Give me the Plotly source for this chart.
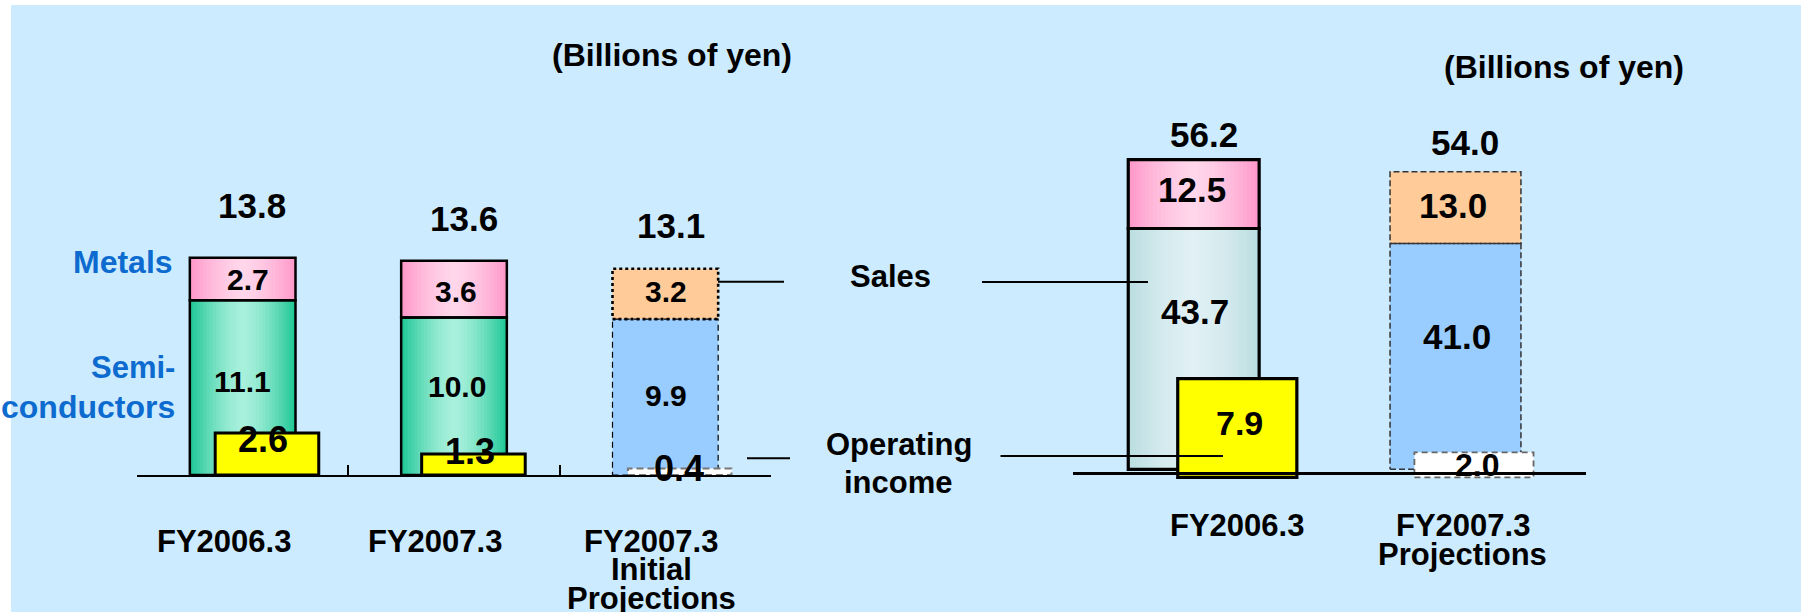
import plotly.graph_objects as go

# ---------------- data ----------------
left_categories = ["FY2006.3", "FY2007.3", "FY2007.3<br>Initial<br>Projections"]
left_semiconductors = [11.1, 10.0, 9.9]
left_metals = [2.7, 3.6, 3.2]
left_totals = [13.8, 13.6, 13.1]
left_operating_income = [2.6, 1.3, 0.4]
left_is_projection = [False, False, True]

right_categories = ["FY2006.3", "FY2007.3<br>Projections"]
right_lower = [43.7, 41.0]
right_upper = [12.5, 13.0]
right_totals = [56.2, 54.0]
right_operating_income = [7.9, 2.0]
right_is_projection = [False, True]

unit_label = "(Billions of yen)"
segment_labels = ["Metals", "Semi-", "conductors"]
callout_labels = ["Sales", "Operating", "income"]

# ---------------- styling / geometry ----------------
WF, HF = 1801, 612
FONT = "Liberation Sans, Arial, Helvetica, sans-serif"
BG = "#CCEBFF"
BLUE_TXT = "#0D6BD0"

def fx(p):
    return p / WF

def fy(p):
    return 1 - p / HF

def mix(c1, c2, t):
    return "rgb(%d,%d,%d)" % tuple(round(a + (b - a) * t) for a, b in zip(c1, c2))

TOP = 5
# left chart geometry
L_X0, L_X1 = 137, 771
L_BASE = 475
L_SCALE, L_OP_SCALE = 15.75, 16.2
L_BAR_W, L_OP_W = 0.5, 0.49
L_OP_OFF = [-0.13, -0.153, -0.177]

# right chart geometry
R_X0, R_X1 = 1073, 1586
R_UNIT, R_C0 = 261.8, 1193.7
R_DOM_BOTTOM = 480
R_ZERO, R_SCALE = 469.3, 5.51
R_OP_ZERO, R_OP_SCALE = 477.3, 12.5
R_AXIS = 472.7
R_BAR_W, R_OP_W = 0.5, 0.455
R_OP_OFF = [-0.061, -0.157]

GREEN_EDGE, GREEN_MID = (28, 198, 148), (168, 240, 220)
PINK_EDGE, PINK_MID = (255, 150, 200), (255, 214, 234)
CYAN_EDGE, CYAN_MID = (186, 221, 224), (224, 240, 244)
PROJ_LOWER, PROJ_UPPER = "#99CCFF", "#FFCC99"
YELLOW = "#FFFF00"

fig = go.Figure()


def gradient_bars(xs, bases, vals, width, edge, mid, xa, ya, n=16, power=1.5):
    for k in range(n):
        f = 1 - k / n
        t = max(f - 0.5 / n, 0)
        fig.add_bar(x=xs, y=vals, base=bases, width=[width * f] * len(xs),
                    marker=dict(color=mix(mid, edge, t ** power), line=dict(width=0)),
                    xaxis=xa, yaxis=ya, hoverinfo="skip", showlegend=False)


def outline_bars(xs, bases, vals, width, lw, xa, ya):
    fig.add_bar(x=xs, y=vals, base=bases, width=[width] * len(xs),
                marker=dict(color="rgba(0,0,0,0)", line=dict(width=lw, color="black")),
                xaxis=xa, yaxis=ya, hoverinfo="skip", showlegend=False)


def dashed_rects(rects, color, lw, dash, xa, ya):
    xs, ys = [], []
    for l, r, b, t in rects:
        xs += [l, r, r, l, l, None]
        ys += [b, b, t, t, b, None]
    fig.add_scatter(x=xs, y=ys, mode="lines", line=dict(color=color, width=lw, dash=dash),
                    xaxis=xa, yaxis=ya, hoverinfo="skip", showlegend=False)


def txt(text, x, y, xref, yref, size=31, color="black", xanchor="center",
        yanchor="middle", xshift=0, yshift=0):
    fig.add_annotation(text=text, x=x, y=y, xref=xref, yref=yref, showarrow=False,
                       font=dict(family=FONT, size=size, color=color, weight="bold"),
                       xanchor=xanchor, yanchor=yanchor, xshift=xshift, yshift=yshift)


# ================= LEFT CHART =================
lx = list(range(len(left_categories)))
solid = [i for i in lx if not left_is_projection[i]]
proj = [i for i in lx if left_is_projection[i]]

gradient_bars(solid, [0] * len(solid), [left_semiconductors[i] for i in solid],
              L_BAR_W, GREEN_EDGE, GREEN_MID, "x", "y")
gradient_bars(solid, [left_semiconductors[i] for i in solid], [left_metals[i] for i in solid],
              L_BAR_W, PINK_EDGE, PINK_MID, "x", "y")
outline_bars(solid, [0] * len(solid), [left_semiconductors[i] for i in solid], L_BAR_W, 2.5, "x", "y")
outline_bars(solid, [left_semiconductors[i] for i in solid], [left_metals[i] for i in solid],
             L_BAR_W, 2.5, "x", "y")

fig.add_bar(x=proj, y=[left_semiconductors[i] for i in proj], base=[0] * len(proj),
            width=[L_BAR_W] * len(proj), marker=dict(color=PROJ_LOWER, line=dict(width=0)),
            xaxis="x", yaxis="y", hoverinfo="skip", showlegend=False)
fig.add_bar(x=proj, y=[left_metals[i] for i in proj], base=[left_semiconductors[i] for i in proj],
            width=[L_BAR_W] * len(proj), marker=dict(color=PROJ_UPPER, line=dict(width=0)),
            xaxis="x", yaxis="y", hoverinfo="skip", showlegend=False)
dashed_rects([(i - L_BAR_W / 2, i + L_BAR_W / 2, 0, left_semiconductors[i]) for i in proj],
             "black", 1.2, "6px,4px", "x", "y")
dashed_rects([(i - L_BAR_W / 2, i + L_BAR_W / 2, left_semiconductors[i],
               left_semiconductors[i] + left_metals[i]) for i in proj],
             "black", 2.6, "3px,3px", "x", "y")

# operating income (left)
fig.add_bar(x=solid, y=[left_operating_income[i] for i in solid], width=[L_OP_W] * len(solid),
            offset=[L_OP_OFF[i] for i in solid],
            marker=dict(color=YELLOW, line=dict(width=3, color="black")),
            xaxis="x", yaxis="y4", hoverinfo="skip", showlegend=False)
fig.add_bar(x=proj, y=[left_operating_income[i] for i in proj], width=[L_OP_W] * len(proj),
            offset=[L_OP_OFF[i] for i in proj],
            marker=dict(color="white", line=dict(width=0)),
            xaxis="x", yaxis="y4", hoverinfo="skip", showlegend=False)
dashed_rects([(i + L_OP_OFF[i], i + L_OP_OFF[i] + L_OP_W, 0, left_operating_income[i]) for i in proj],
             "#777777", 2, "7px,4px", "x", "y4")

# ================= RIGHT CHART =================
rx = list(range(len(right_categories)))
rsolid = [i for i in rx if not right_is_projection[i]]
rproj = [i for i in rx if right_is_projection[i]]

gradient_bars(rsolid, [0] * len(rsolid), [right_lower[i] for i in rsolid],
              R_BAR_W, CYAN_EDGE, CYAN_MID, "x2", "y2")
gradient_bars(rsolid, [right_lower[i] for i in rsolid], [right_upper[i] for i in rsolid],
              R_BAR_W, PINK_EDGE, PINK_MID, "x2", "y2")
outline_bars(rsolid, [0] * len(rsolid), [right_lower[i] for i in rsolid], R_BAR_W, 3.2, "x2", "y2")
outline_bars(rsolid, [right_lower[i] for i in rsolid], [right_upper[i] for i in rsolid],
             R_BAR_W, 3.2, "x2", "y2")

fig.add_bar(x=rproj, y=[right_lower[i] for i in rproj], base=[0] * len(rproj),
            width=[R_BAR_W] * len(rproj), marker=dict(color=PROJ_LOWER, line=dict(width=0)),
            xaxis="x2", yaxis="y2", hoverinfo="skip", showlegend=False)
fig.add_bar(x=rproj, y=[right_upper[i] for i in rproj], base=[right_lower[i] for i in rproj],
            width=[R_BAR_W] * len(rproj), marker=dict(color=PROJ_UPPER, line=dict(width=0)),
            xaxis="x2", yaxis="y2", hoverinfo="skip", showlegend=False)
dashed_rects([(i - R_BAR_W / 2, i + R_BAR_W / 2, 0, right_lower[i]) for i in rproj] +
             [(i - R_BAR_W / 2, i + R_BAR_W / 2, right_lower[i], right_lower[i] + right_upper[i])
              for i in rproj],
             "#333333", 1.5, "6px,3px", "x2", "y2")

fig.add_bar(x=rsolid, y=[right_operating_income[i] for i in rsolid], width=[R_OP_W] * len(rsolid),
            offset=[R_OP_OFF[i] for i in rsolid],
            marker=dict(color=YELLOW, line=dict(width=3.2, color="black")),
            xaxis="x2", yaxis="y3", hoverinfo="skip", showlegend=False)
fig.add_bar(x=rproj, y=[right_operating_income[i] for i in rproj], width=[R_OP_W] * len(rproj),
            offset=[R_OP_OFF[i] for i in rproj],
            marker=dict(color="white", line=dict(width=0)),
            xaxis="x2", yaxis="y3", hoverinfo="skip", showlegend=False)
dashed_rects([(i + R_OP_OFF[i], i + R_OP_OFF[i] + R_OP_W, 0, right_operating_income[i]) for i in rproj],
             "#666666", 1.8, "6px,4px", "x2", "y3")

# ================= TEXT =================
L_TOT_DX, L_TOT_DY = [9, 10, 6], [52, 42, 43]
L_SEMI_DX, L_SEMI_DY = [0, 3, 1], [6, 10, 2]
L_MET_DX, L_MET_DY = [5, 2, 1], [-1, -2, 2]
L_OP_DX, L_OP_DY = [-4, -3, -1], [-7, 2, 0]
for i in lx:
    txt(f"{left_totals[i]:.1f}", i, left_totals[i], "x", "y", size=35,
        xshift=L_TOT_DX[i], yshift=L_TOT_DY[i])
    txt(f"{left_semiconductors[i]:.1f}", i, left_semiconductors[i] / 2, "x", "y", size=30,
        xshift=L_SEMI_DX[i], yshift=L_SEMI_DY[i])
    txt(f"{left_metals[i]:.1f}", i, left_semiconductors[i] + left_metals[i] / 2, "x", "y", size=30,
        xshift=L_MET_DX[i], yshift=L_MET_DY[i])
    txt(f"{left_operating_income[i]:.1f}", i + L_OP_OFF[i] + L_OP_W / 2, left_operating_income[i],
        "x", "y4", size=36, xshift=L_OP_DX[i], yshift=L_OP_DY[i])

R_TOT_DX, R_TOT_DY = [10, 9.5], [25, 29]
R_LOW_DX, R_LOW_DY = [1, 1.5], [37, 20]
R_UP_DX, R_UP_DY = [-2, -2.5], [5, 2]
R_OP_DX, R_OP_DY = [2.5, 3.5], [5, 0]
R_OP_SIZE = [34, 32]
for i in rx:
    txt(f"{right_totals[i]:.1f}", i, right_totals[i], "x2", "y2", size=35,
        xshift=R_TOT_DX[i], yshift=R_TOT_DY[i])
    txt(f"{right_lower[i]:.1f}", i, right_lower[i] / 2, "x2", "y2", size=35,
        xshift=R_LOW_DX[i], yshift=R_LOW_DY[i])
    txt(f"{right_upper[i]:.1f}", i, right_lower[i] + right_upper[i] / 2, "x2", "y2", size=35,
        xshift=R_UP_DX[i], yshift=R_UP_DY[i])
    txt(f"{right_operating_income[i]:.1f}", i + R_OP_OFF[i] + R_OP_W / 2,
        right_operating_income[i] / 2, "x2", "y3", size=R_OP_SIZE[i],
        xshift=R_OP_DX[i], yshift=R_OP_DY[i])

# category labels
L_CAT_DX = [-19, -19, -14]
for i, cat in enumerate(left_categories):
    for k, line in enumerate(cat.split("<br>")):
        txt(line, i, fy(541 + 28.7 * k), "x", "paper", size=31, xshift=L_CAT_DX[i])
R_CAT_DX = [43, 7]
for i, cat in enumerate(right_categories):
    for k, line in enumerate(cat.split("<br>")):
        txt(line, i, fy(525.4 + 29.3 * k), "x2", "paper", size=31, xshift=R_CAT_DX[i])

# unit labels
txt(unit_label, fx(672), fy(55), "paper", "paper", size=32)
txt(unit_label, fx(1564), fy(67), "paper", "paper", size=32)

# segment names (blue)
txt(segment_labels[0], fx(175), fy(262), "paper", "paper", size=32, color=BLUE_TXT, xanchor="right")
txt(segment_labels[1], fx(177), fy(367), "paper", "paper", size=31, color=BLUE_TXT, xanchor="right")
txt(segment_labels[2], fx(177), fy(406.5), "paper", "paper", size=32, color=BLUE_TXT, xanchor="right")

# callouts
txt(callout_labels[0], fx(890.6), fy(277), "paper", "paper", size=31)
txt(callout_labels[1], fx(898.5), fy(444), "paper", "paper", size=31)
txt(callout_labels[2], fx(898), fy(482), "paper", "paper", size=31)

# ---------------- shapes: background + leader lines ----------------
shapes = [dict(type="rect", xref="paper", yref="paper", x0=fx(11), x1=1, y0=0, y1=fy(TOP),
               fillcolor=BG, line=dict(width=0), layer="below")]
for (x0, x1, yy) in [(718, 784, 281.7), (982, 1148, 282), (747, 790, 458.3), (1000.5, 1223, 456)]:
    shapes.append(dict(type="line", xref="paper", yref="paper", x0=fx(x0), x1=fx(x1),
                       y0=fy(yy), y1=fy(yy), line=dict(color="black", width=2), layer="above"))

fig.update_layout(
    width=WF, height=HF, margin=dict(l=0, r=0, t=0, b=0),
    paper_bgcolor="white", plot_bgcolor="rgba(0,0,0,0)",
    barmode="overlay", showlegend=False, shapes=shapes,
    xaxis=dict(domain=[fx(L_X0), fx(L_X1)], range=[-0.5, 2.5], anchor="y",
               showline=True, linecolor="black", linewidth=2,
               ticks="inside", tickvals=[-0.5, 0.5, 1.5, 2.5], ticklen=10, tickwidth=2,
               tickcolor="black", showticklabels=False, showgrid=False, zeroline=False,
               fixedrange=True),
    yaxis=dict(domain=[fy(L_BASE), fy(TOP)], range=[0, (L_BASE - TOP) / L_SCALE],
               anchor="x", visible=False, fixedrange=True),
    yaxis4=dict(overlaying="y", anchor="x", range=[0, (L_BASE - TOP) / L_OP_SCALE],
                visible=False, fixedrange=True),
    xaxis2=dict(domain=[fx(R_X0), fx(R_X1)],
                range=[(R_X0 - R_C0) / R_UNIT, (R_X1 - R_C0) / R_UNIT],
                anchor="free", position=fy(R_AXIS),
                showline=True, linecolor="black", linewidth=2.5, ticks="",
                showticklabels=False, showgrid=False, zeroline=False, fixedrange=True),
    yaxis2=dict(domain=[fy(R_DOM_BOTTOM), fy(TOP)],
                range=[-(R_DOM_BOTTOM - R_ZERO) / R_SCALE, (R_ZERO - TOP) / R_SCALE],
                anchor="x2", visible=False, fixedrange=True),
    yaxis3=dict(overlaying="y2", anchor="x2",
                range=[-(R_DOM_BOTTOM - R_OP_ZERO) / R_OP_SCALE, (R_OP_ZERO - TOP) / R_OP_SCALE],
                visible=False, fixedrange=True),
)

# remove the default page margin so the 1801x612 figure fills the window exactly
fig.write_html("out.html", config={"displayModeBar": False},
               post_script="document.body.style.margin='0px';")
